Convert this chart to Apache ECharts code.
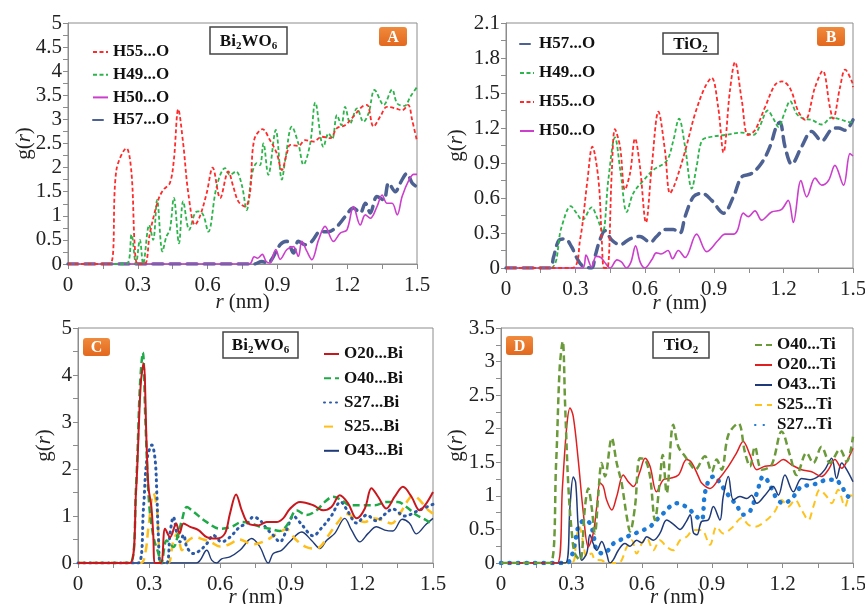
<!DOCTYPE html>
<html>
<head>
<meta charset="utf-8">
<script src="https://cdn.jsdelivr.net/npm/echarts@6/dist/echarts.min.js"></script>
<style>
  html, body { margin: 0; padding: 0; background: #fff; }
  #chart { width: 865px; height: 604px; }
</style>
</head>
<body>
<div id="chart"></div>
<script>
// Radial distribution functions g(r), r in nm. Each array holds [r, g(r)] pairs.

// Panel A: H...O pairs on Bi2WO6
const A_H55 = [[0,0],[0.18,0],[0.208,1.95],[0.251,2.4],[0.273,1.88],[0.287,0.36],[0.3,0],[0.33,0],[0.352,0.64],[0.388,1.33],[0.41,1.54],[0.438,1.68],[0.455,2.16],[0.474,3.21],[0.495,2.5],[0.517,1.47],[0.546,0.81],[0.567,0.99],[0.596,1.47],[0.622,2.0],[0.654,1.37],[0.689,1.92],[0.71,1.61],[0.732,1.3],[0.761,1.19],[0.782,1.47],[0.8,2.57],[0.836,2.8],[0.868,2.57],[0.897,2.3],[0.919,1.95],[0.941,2.3],[0.955,2.47],[0.99,2.45],[1.02,2.57],[1.055,2.54],[1.091,2.64],[1.127,2.61],[1.156,2.82],[1.191,2.88],[1.227,3.06],[1.263,3.26],[1.285,3.3],[1.313,2.85],[1.342,3.06],[1.371,3.26],[1.407,3.23],[1.436,3.19],[1.462,3.3],[1.479,2.99],[1.5,2.55]];
const A_H49 = [[0,0],[0.251,0],[0.273,0.61],[0.292,0],[0.309,0.5],[0.323,0],[0.349,0.81],[0.366,0.5],[0.383,1.33],[0.406,0.26],[0.423,0.57],[0.438,0.71],[0.455,1.37],[0.477,0.43],[0.495,1.3],[0.521,0.71],[0.546,1.06],[0.56,1.09],[0.581,1.02],[0.603,0.67],[0.639,1.61],[0.675,1.99],[0.696,1.85],[0.722,1.92],[0.747,1.64],[0.768,1.12],[0.79,1.85],[0.811,2.09],[0.825,2.05],[0.84,2.5],[0.861,1.85],[0.893,2.78],[0.919,1.75],[0.935,2.2],[0.962,2.85],[0.99,2.5],[1.012,2.06],[1.041,2.5],[1.063,3.35],[1.098,2.43],[1.12,2.71],[1.136,2.6],[1.156,3.09],[1.175,2.88],[1.191,3.26],[1.213,2.92],[1.242,3.23],[1.27,2.95],[1.292,3.13],[1.318,3.61],[1.357,3.3],[1.393,3.62],[1.415,3.33],[1.447,3.28],[1.471,3.47],[1.5,3.67]];
const A_H50 = [[0,0],[0.78,0],[0.8,0.15],[0.815,0.12],[0.835,0.2],[0.852,0.05],[0.868,0.02],[0.893,0.3],[0.912,0.1],[0.941,0.3],[0.969,0.36],[0.99,0.16],[1.005,0.47],[1.027,0.26],[1.048,0.09],[1.077,0.5],[1.105,0.78],[1.141,0.47],[1.17,0.64],[1.199,0.71],[1.227,1.19],[1.256,0.81],[1.278,1.02],[1.299,0.95],[1.328,1.19],[1.35,1.43],[1.371,1.26],[1.393,1.26],[1.415,1.02],[1.436,1.4],[1.465,1.74],[1.486,1.86],[1.5,1.86]];
const A_H57 = [[0,0],[0.8,0],[0.833,0.05],[0.86,0.02],[0.876,0.1],[0.912,0.4],[0.941,0.47],[0.969,0.23],[0.99,0.47],[1.02,0.4],[1.048,0.47],[1.084,0.67],[1.12,0.67],[1.156,0.78],[1.191,0.98],[1.227,1.16],[1.256,1.06],[1.278,1.26],[1.299,1.06],[1.328,1.4],[1.357,1.33],[1.378,1.68],[1.407,1.5],[1.428,1.68],[1.457,1.88],[1.479,1.68],[1.5,1.6]];

// Panel B: H...O pairs on TiO2
const B_H57 = [[0,0],[0.19,0],[0.205,0.09],[0.23,0.24],[0.255,0.25],[0.284,0.18],[0.305,0.09],[0.33,0.02],[0.37,0],[0.385,0.1],[0.406,0.24],[0.428,0.32],[0.457,0.24],[0.493,0.2],[0.536,0.25],[0.579,0.27],[0.623,0.22],[0.651,0.27],[0.687,0.33],[0.723,0.33],[0.752,0.3],[0.774,0.44],[0.81,0.61],[0.846,0.64],[0.889,0.58],[0.94,0.47],[0.983,0.61],[1.019,0.78],[1.062,0.81],[1.105,0.9],[1.141,1.04],[1.17,1.22],[1.184,1.25],[1.206,1.04],[1.235,0.89],[1.278,1.04],[1.321,1.17],[1.365,1.09],[1.408,1.19],[1.437,1.2],[1.466,1.18],[1.5,1.27]];
const B_H49 = [[0,0],[0.19,0],[0.24,0.35],[0.28,0.53],[0.305,0.47],[0.33,0.41],[0.37,0.52],[0.392,0.44],[0.418,0.31],[0.442,0.75],[0.471,1.12],[0.496,0.81],[0.522,0.48],[0.55,0.64],[0.594,0.75],[0.637,0.84],[0.695,0.92],[0.723,1.09],[0.748,1.28],[0.774,1.04],[0.803,0.68],[0.824,0.87],[0.846,1.09],[0.875,1.12],[0.947,1.14],[1.019,1.16],[1.069,1.14],[1.098,1.22],[1.131,1.35],[1.156,1.28],[1.177,1.21],[1.206,1.34],[1.228,1.43],[1.257,1.32],[1.285,1.28],[1.321,1.27],[1.365,1.23],[1.408,1.29],[1.451,1.27],[1.487,1.25],[1.5,1.25]];
const B_H55 = [[0,0],[0.284,0],[0.32,0.24],[0.352,0.75],[0.373,1.04],[0.4,0.75],[0.414,0.24],[0.424,0],[0.438,0],[0.457,0.81],[0.471,1.19],[0.493,1.04],[0.514,0.67],[0.536,0.81],[0.558,1.11],[0.579,0.87],[0.605,0.39],[0.63,0.87],[0.659,1.34],[0.687,1.01],[0.709,0.64],[0.73,0.72],[0.774,1.0],[0.817,1.32],[0.86,1.55],[0.889,1.63],[0.917,1.38],[0.94,0.99],[0.968,1.52],[0.99,1.765],[1.019,1.44],[1.046,1.14],[1.076,1.18],[1.12,1.38],[1.163,1.57],[1.193,1.6],[1.228,1.54],[1.264,1.34],[1.293,1.27],[1.336,1.55],[1.369,1.69],[1.4,1.38],[1.414,1.28],[1.444,1.55],[1.466,1.7],[1.495,1.6],[1.5,1.55]];
const B_H50 = [[0,0],[0.33,0],[0.346,0.11],[0.37,0.01],[0.39,0.1],[0.41,0.09],[0.43,0.04],[0.45,0],[0.48,0.07],[0.5,0.05],[0.52,0],[0.54,0.05],[0.56,0.19],[0.58,0.05],[0.6,0],[0.63,0.07],[0.65,0.13],[0.67,0.12],[0.7,0.15],[0.72,0.08],[0.745,0.15],[0.774,0.09],[0.824,0.29],[0.868,0.14],[0.918,0.24],[0.947,0.29],[0.983,0.29],[1.0,0.32],[1.026,0.47],[1.048,0.44],[1.076,0.49],[1.105,0.41],[1.148,0.48],[1.19,0.5],[1.22,0.58],[1.242,0.39],[1.275,0.75],[1.3,0.61],[1.336,0.77],[1.365,0.71],[1.394,0.75],[1.422,0.88],[1.459,0.71],[1.487,0.98],[1.5,0.96]];

// Panel C: X...Bi pairs on Bi2WO6
const C_O20 = [[0,0],[0.22,0],[0.245,1.5],[0.265,3.8],[0.277,4.25],[0.29,2.5],[0.298,1.6],[0.31,1.2],[0.318,0.6],[0.326,0],[0.35,0],[0.368,0.73],[0.389,0.55],[0.415,0.84],[0.429,0.63],[0.446,0.84],[0.474,0.77],[0.509,0.7],[0.544,0.55],[0.586,0.52],[0.621,0.63],[0.642,1.05],[0.668,1.46],[0.692,1.12],[0.72,0.84],[0.762,0.8],[0.797,0.87],[0.839,0.87],[0.867,0.95],[0.895,1.15],[0.938,1.3],[0.994,1.23],[1.036,1.12],[1.071,1.19],[1.106,1.44],[1.141,1.27],[1.177,0.95],[1.212,1.16],[1.24,1.59],[1.268,1.41],[1.303,1.16],[1.338,1.41],[1.373,1.62],[1.409,1.41],[1.444,1.12],[1.472,1.27],[1.5,1.51]];
const C_O40 = [[0,0],[0.22,0],[0.245,1.6],[0.262,3.8],[0.274,4.48],[0.285,3.0],[0.3,1.3],[0.319,0.55],[0.34,0.2],[0.352,0],[0.375,0.48],[0.403,0.34],[0.424,0.63],[0.439,0.91],[0.46,1.19],[0.488,1.09],[0.544,0.87],[0.6,0.73],[0.649,0.77],[0.692,0.87],[0.734,0.84],[0.769,0.77],[0.811,0.73],[0.853,0.68],[0.888,0.84],[0.923,1.12],[0.966,1.02],[1.008,1.12],[1.043,1.3],[1.078,1.41],[1.113,1.34],[1.148,1.23],[1.205,1.23],[1.254,1.23],[1.303,1.3],[1.352,1.3],[1.388,1.19],[1.43,1.02],[1.472,0.91],[1.5,0.8]];
const C_S27 = [[0,0],[0.255,0],[0.277,1.19],[0.291,2.19],[0.312,2.51],[0.326,2.19],[0.333,1.48],[0.34,0.55],[0.35,0],[0.375,0],[0.389,0.63],[0.403,0.98],[0.418,0.63],[0.431,0.45],[0.446,0.6],[0.46,0.34],[0.488,0.2],[0.516,0.27],[0.544,0.41],[0.572,0.59],[0.607,0.45],[0.642,0.55],[0.684,0.77],[0.713,0.84],[0.741,0.98],[0.769,0.91],[0.797,0.73],[0.825,0.59],[0.853,0.45],[0.881,0.7],[0.91,1.0],[0.94,0.85],[0.994,0.58],[1.03,0.75],[1.07,1.0],[1.11,1.3],[1.14,1.1],[1.177,0.85],[1.22,1.02],[1.26,0.9],[1.3,1.05],[1.33,1.15],[1.38,1.0],[1.44,1.12],[1.5,1.25]];
const C_S25 = [[0,0],[0.265,0],[0.284,0.2],[0.298,0.77],[0.319,1.48],[0.333,1.19],[0.34,0.55],[0.35,0],[0.38,0],[0.389,0.06],[0.403,0.48],[0.42,0.63],[0.439,0.27],[0.46,0.45],[0.495,0.55],[0.53,0.5],[0.56,0.45],[0.6,0.35],[0.64,0.4],[0.68,0.5],[0.74,0.4],[0.79,0.47],[0.84,0.62],[0.88,0.72],[0.92,0.5],[0.96,0.35],[0.995,0.31],[1.022,0.34],[1.064,0.63],[1.099,0.87],[1.134,1.05],[1.17,0.95],[1.212,0.87],[1.247,0.95],[1.289,0.91],[1.324,0.84],[1.36,1.05],[1.395,1.34],[1.415,1.44],[1.444,1.34],[1.472,1.16],[1.5,1.05]];
const C_O43 = [[0,0],[0.5,0],[0.544,0.27],[0.565,0.06],[0.586,0],[0.607,0.09],[0.642,0.13],[0.684,0.27],[0.734,0.52],[0.769,0.34],[0.804,0],[0.825,0.2],[0.86,0.27],[0.895,0.45],[0.945,0.66],[0.987,0.48],[1.022,0.31],[1.05,0.48],[1.085,0.63],[1.127,0.95],[1.156,0.7],[1.191,0.45],[1.226,0.63],[1.261,0.77],[1.296,0.7],[1.33,0.68],[1.37,0.93],[1.4,0.85],[1.43,0.62],[1.47,0.82],[1.5,0.95]];

// Panel D: X...Ti pairs on TiO2
const D_O40 = [[0,0],[0.21,0],[0.235,1.5],[0.25,2.9],[0.263,3.3],[0.273,2.38],[0.287,1.14],[0.302,0.44],[0.315,0.14],[0.337,0.04],[0.358,0.84],[0.372,1.11],[0.386,0.84],[0.4,0.44],[0.415,1.04],[0.429,1.49],[0.443,1.29],[0.472,1.86],[0.493,1.49],[0.514,1.19],[0.536,0.69],[0.55,0.47],[0.571,0.84],[0.592,1.56],[0.614,1.54],[0.635,1.29],[0.656,0.64],[0.677,1.24],[0.689,1.61],[0.706,1.04],[0.734,2.06],[0.756,1.73],[0.784,1.59],[0.813,1.44],[0.827,1.39],[0.869,1.59],[0.898,1.36],[0.919,1.54],[0.94,1.39],[0.969,1.91],[1.011,2.08],[1.04,1.64],[1.061,1.44],[1.082,1.73],[1.111,1.39],[1.153,1.46],[1.196,1.96],[1.231,1.61],[1.26,1.31],[1.302,1.64],[1.331,1.49],[1.366,1.73],[1.402,1.49],[1.444,1.69],[1.473,1.51],[1.5,1.88]];
const D_O20 = [[0,0],[0.24,0],[0.262,1.14],[0.28,2.03],[0.294,2.31],[0.308,2.18],[0.329,1.54],[0.351,0.74],[0.372,0.24],[0.393,0.44],[0.408,0.84],[0.422,1.19],[0.436,1.14],[0.45,0.94],[0.472,0.79],[0.493,0.99],[0.521,1.31],[0.542,1.21],[0.564,1.14],[0.592,1.36],[0.614,1.56],[0.635,1.44],[0.663,1.06],[0.692,1.24],[0.72,1.26],[0.756,1.31],[0.791,1.54],[0.813,1.49],[0.841,1.29],[0.855,1.19],[0.89,1.11],[0.926,1.24],[0.969,1.44],[1.004,1.64],[1.032,1.81],[1.061,1.61],[1.09,1.39],[1.125,1.44],[1.167,1.46],[1.203,1.54],[1.239,1.46],[1.281,1.39],[1.324,1.36],[1.366,1.29],[1.395,1.39],[1.423,1.54],[1.452,1.41],[1.48,1.56],[1.5,1.71]];
const D_O43 = [[0,0],[0.275,0],[0.294,0.84],[0.308,1.28],[0.318,1.2],[0.329,0.54],[0.344,0.04],[0.365,0.14],[0.379,0.42],[0.393,0.29],[0.408,0.19],[0.429,0.32],[0.45,0.14],[0.464,0],[0.479,0.05],[0.5,0.19],[0.528,0.29],[0.55,0.25],[0.578,0.34],[0.6,0.3],[0.621,0.39],[0.649,0.34],[0.677,0.44],[0.706,0.64],[0.734,0.58],[0.763,0.5],[0.79,0.62],[0.806,0.72],[0.82,0.45],[0.835,0.42],[0.855,0.62],[0.883,0.64],[0.905,0.84],[0.933,0.64],[0.947,0.99],[0.969,1.29],[0.99,0.94],[1.018,0.99],[1.047,0.96],[1.068,1.01],[1.09,0.89],[1.125,1.01],[1.16,1.14],[1.182,1.01],[1.21,1.31],[1.246,1.06],[1.281,1.26],[1.317,1.24],[1.352,1.29],[1.38,1.39],[1.409,1.56],[1.43,1.26],[1.452,1.49],[1.473,1.39],[1.5,1.21]];
const D_S25 = [[0,0],[0.3,0],[0.322,0.39],[0.334,0.54],[0.35,0.3],[0.365,0.09],[0.386,0.14],[0.4,0.05],[0.429,0.04],[0.45,0],[0.5,0],[0.514,0.04],[0.536,0.24],[0.557,0.34],[0.578,0.14],[0.6,0.29],[0.621,0.37],[0.649,0.19],[0.677,0.34],[0.706,0.24],[0.734,0.19],[0.763,0.34],[0.791,0.39],[0.82,0.49],[0.855,0.49],[0.89,0.27],[0.919,0.54],[0.947,0.44],[0.983,0.52],[1.026,0.67],[1.054,0.57],[1.082,0.54],[1.132,0.64],[1.167,0.77],[1.196,0.94],[1.224,0.84],[1.253,0.94],[1.281,0.79],[1.31,0.64],[1.331,0.84],[1.359,1.09],[1.388,0.99],[1.409,0.89],[1.437,1.09],[1.466,0.84],[1.487,1.01],[1.5,1.0]];
const D_S27 = [[0,0],[0.275,0],[0.294,0.04],[0.315,0.29],[0.33,0.54],[0.358,0.64],[0.379,0.59],[0.393,0.44],[0.408,0.19],[0.436,0.14],[0.457,0.19],[0.479,0.29],[0.507,0.34],[0.536,0.39],[0.571,0.44],[0.606,0.49],[0.635,0.54],[0.663,0.64],[0.692,0.74],[0.72,0.84],[0.749,0.89],[0.777,0.86],[0.805,0.79],[0.834,0.69],[0.855,0.64],[0.869,1.04],[0.89,1.26],[0.912,1.29],[0.933,1.19],[0.969,1.01],[1.004,0.86],[1.032,0.72],[1.061,0.77],[1.09,1.04],[1.118,1.29],[1.139,1.21],[1.175,0.96],[1.203,0.89],[1.239,0.96],[1.281,1.14],[1.317,1.16],[1.352,1.19],[1.388,1.24],[1.423,1.24],[1.452,1.14],[1.473,1.01],[1.5,0.95]];

// Axis ranges: [max, tick step, label step]
const yScales = [[5, 0.25, 0.5], [2.1, 0.15, 0.3], [5, 0.5, 1], [3.5, 0.25, 0.5]];
const xScale = [1.5, 0.15, 0.3];

const SERIF = 'Liberation Serif';
const AXIS_GRAY = '#8c8c8c';

const chart = echarts.init(document.getElementById('chart'));

const grids = [
  { left: 68, top: 23, width: 349, height: 241 },
  { left: 506, top: 23, width: 347, height: 245 },
  { left: 78, top: 328, width: 355, height: 235 },
  { left: 501, top: 328, width: 352, height: 235 }
].map(g => Object.assign({ show: true, borderColor: AXIS_GRAY, borderWidth: 1, backgroundColor: '#fff',
                           containLabel: false, outerBoundsMode: 'none' }, g));

function labelEvery(step) {
  return function (v) {
    const k = v / step;
    return Math.abs(k - Math.round(k)) < 1e-6 ? String(+v.toFixed(2)) : '';
  };
}

const axisCommon = {
  axisLine: { show: true, lineStyle: { color: AXIS_GRAY, width: 1 } },
  axisTick: { show: true, inside: false, length: 5, lineStyle: { color: AXIS_GRAY } },
  splitLine: { show: false },
  nameMoveOverlap: false
};

const xNameGaps = [28, 25, 24, 24];
const yNameGaps = [33, 39, 23, 34];

const xAxes = grids.map((g, i) => Object.assign({}, axisCommon, {
  type: 'value', gridIndex: i, min: 0, max: xScale[0], interval: xScale[1],
  axisLabel: { formatter: labelEvery(xScale[2]), fontFamily: SERIF, fontSize: 21, color: '#222', margin: 11 },
  name: '{i|r} (nm)', nameLocation: 'middle', nameGap: xNameGaps[i],
  nameTextStyle: { fontFamily: SERIF, fontSize: 21, color: '#222', rich: { i: { fontFamily: SERIF, fontSize: 21, fontStyle: 'italic', color: '#222' } } }
}));

const yAxes = grids.map((g, i) => Object.assign({}, axisCommon, {
  type: 'value', gridIndex: i, min: 0, max: yScales[i][0], interval: yScales[i][1],
  axisLabel: { formatter: labelEvery(yScales[i][2]), fontFamily: SERIF, fontSize: 21, color: '#222', margin: 6 },
  name: 'g({i|r})', nameLocation: 'middle', nameGap: yNameGaps[i], nameRotate: 90,
  nameTextStyle: { fontFamily: SERIF, fontSize: 21, color: '#222', rich: { i: { fontFamily: SERIF, fontSize: 21, fontStyle: 'italic', color: '#222' } } }
}));

function line(name, data, idx, color, width, dash, cap) {
  return {
    type: 'line', name: name, data: data, xAxisIndex: idx, yAxisIndex: idx,
    symbol: 'none', smooth: 0.35, animation: false,
    lineStyle: { color: color, width: width, type: dash, cap: cap || 'butt' },
    itemStyle: { color: color }
  };
}

const series = [
  line('H57...O', A_H57, 0, '#4d6293', 3.5, [10, 7], 'round'),
  line('H50...O', A_H50, 0, '#cc3fcc', 1.6, 'solid'),
  line('H49...O', A_H49, 0, '#2db54c', 1.8, [4, 2.5]),
  line('H55...O', A_H55, 0, '#ff2b2b', 1.8, [4, 2.5]),

  line('H57...O', B_H57, 1, '#4d6293', 3.5, [10, 7], 'round'),
  line('H50...O', B_H50, 1, '#cc3fcc', 1.6, 'solid'),
  line('H49...O', B_H49, 1, '#2db54c', 1.8, [4, 2.5]),
  line('H55...O', B_H55, 1, '#ff2b2b', 1.8, [4, 2.5]),

  line('O43...Bi', C_O43, 2, '#1f3a78', 1.4, 'solid'),
  line('S25...Bi', C_S25, 2, '#ffbe1a', 2.5, [9, 6]),
  line('S27...Bi', C_S27, 2, '#2a5aa8', 3, [1, 5], 'round'),
  line('O40...Bi', C_O40, 2, '#1faa48', 2.5, [7, 4]),
  line('O20...Bi', C_O20, 2, '#c8181e', 2, 'solid'),

  line('S25...Ti', D_S25, 3, '#ffc21a', 2, [7, 5]),
  line('S27...Ti', D_S27, 3, '#1c7ad6', 4.5, [0.5, 8], 'round'),
  line('O43...Ti', D_O43, 3, '#1f3a78', 1.5, 'solid'),
  line('O20...Ti', D_O20, 3, '#e02020', 1.5, 'solid'),
  line('O40...Ti', D_O40, 3, '#6b9a3a', 2.5, [7, 4])
];

const legendText = { fontFamily: SERIF, fontWeight: 'bold', fontSize: 17, color: '#111', lineHeight: 18 };
function legend(names, left, top, gap, w) {
  return { orient: 'vertical', left: left, top: top, itemGap: gap, itemWidth: w, itemHeight: 12,
           data: names, textStyle: legendText, selectedMode: false, padding: 0,
           itemStyle: { opacity: 0 } };
}
const legends = [
  legend(['H55...O', 'H49...O', 'H50...O', 'H57...O'], 92, 43, 4.7, 15),
  legend(['H57...O', 'H49...O', 'H55...O', 'H50...O'], 519, 35, 11, 14),
  legend(['O20...Bi', 'O40...Bi', 'S27...Bi', 'S25...Bi', 'O43...Bi'], 323, 345, 6.2, 15),
  legend(['O40...Ti', 'O20...Ti', 'O43...Ti', 'S25...Ti', 'S27...Ti'], 754, 336, 2, 17)
];

// Framed material labels with subscripts, and orange panel letters
const subRich = {
  m: { fontFamily: SERIF, fontWeight: 'bold', fontSize: 17, lineHeight: 20, fill: '#111', verticalAlign: 'middle' },
  s: { fontFamily: SERIF, fontWeight: 'bold', fontSize: 11, lineHeight: 11, fill: '#111', verticalAlign: 'bottom' }
};
function materialBox(x, y, w, h, text) {
  return [
    { type: 'rect', shape: { x: x, y: y, width: w, height: h }, style: { fill: '#fff', stroke: '#444', lineWidth: 1.5 }, z: 10 },
    { type: 'text', x: x + w / 2, y: y + h / 2 + 1, z: 11,
      style: { text: text, rich: subRich, align: 'center', verticalAlign: 'middle' } }
  ];
}
function panelTag(x, y, w, h, letter) {
  return [
    { type: 'rect', shape: { x: x, y: y, width: w, height: h, r: 3 }, z: 10,
      style: { fill: new echarts.graphic.LinearGradient(0, 0, 0, 1, [{ offset: 0, color: '#f08a3c' }, { offset: 1, color: '#e2681e' }]) } },
    { type: 'text', x: x + w / 2, y: y + h / 2 + 1, z: 11,
      style: { text: letter, fill: '#fff', font: 'bold 16px "Liberation Serif"', align: 'center', verticalAlign: 'middle' } }
  ];
}

const graphics = [].concat(
  materialBox(210, 27, 77, 27, '{m|Bi}{s|2}{m|WO}{s|6}'),
  materialBox(663, 33, 55, 21, '{m|TiO}{s|2}'),
  materialBox(223, 332, 75, 26, '{m|Bi}{s|2}{m|WO}{s|6}'),
  materialBox(653, 332, 56, 26, '{m|TiO}{s|2}'),
  panelTag(379, 27, 28, 19, 'A'),
  panelTag(817, 27, 28, 19, 'B'),
  panelTag(83, 338, 27, 18, 'C'),
  panelTag(506, 336, 27, 19, 'D')
);

chart.setOption({
  animation: false,
  backgroundColor: '#fff',
  grid: grids,
  xAxis: xAxes,
  yAxis: yAxes,
  legend: legends,
  series: series,
  graphic: graphics
});
</script>
</body>
</html>
